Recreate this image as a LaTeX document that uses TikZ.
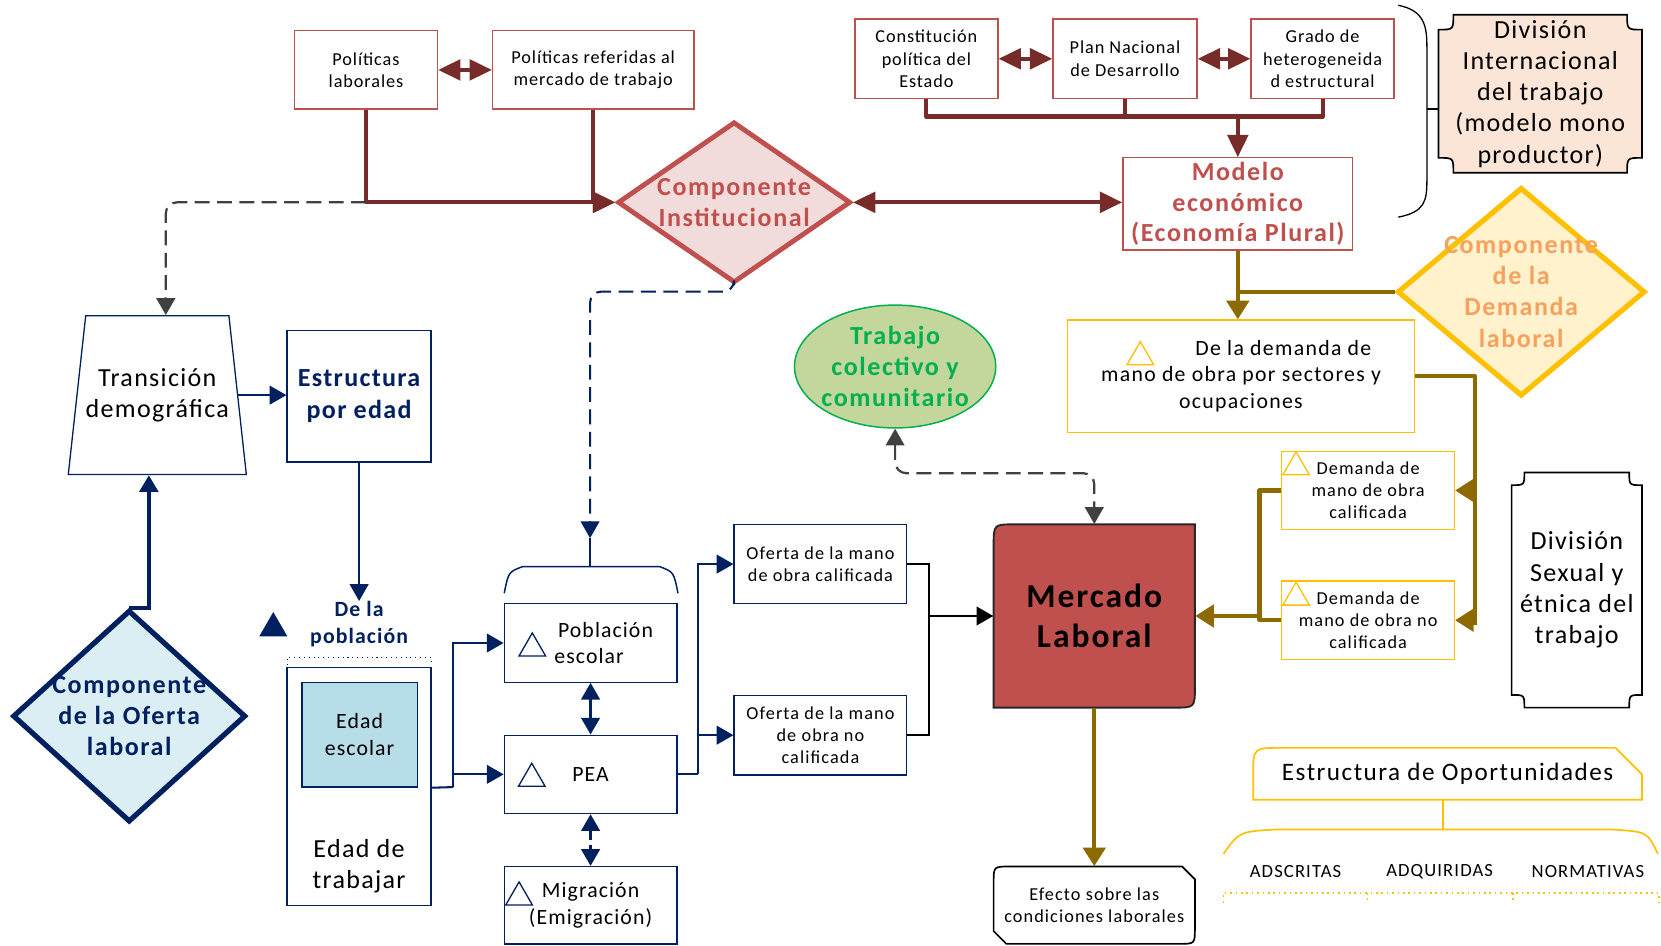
\documentclass[tikz,border=0pt]{standalone}
\usepackage{fontspec}
\setmainfont{Carlito}[LetterSpace=5]
\newfontfamily\trackfont[LetterSpace=6]{Carlito}
\usepackage{tikz}
\usetikzlibrary{arrows.meta,calc,shapes.geometric}
\definecolor{cNavy}{HTML}{002060}
\definecolor{cRed}{HTML}{C0504D}
\definecolor{cPink}{HTML}{F2DCDB}
\definecolor{cMaroon}{HTML}{772C2A}
\definecolor{cSky}{HTML}{DAEEF3}
\definecolor{cAqua}{HTML}{B7DEE8}
\definecolor{cGold}{HTML}{FFC000}
\definecolor{cCream}{HTML}{FFF2CC}
\definecolor{cApricot}{HTML}{F6A25E}
\definecolor{cOlive}{HTML}{8C6A00}
\definecolor{cGreen}{HTML}{00B050}
\definecolor{cLime}{HTML}{C3D69B}
\definecolor{cPeach}{HTML}{FBE5D6}
\definecolor{cDark}{HTML}{262626}
\definecolor{cGray}{HTML}{404040}
\tikzset{
  cbox/.style={draw=#1,fill=white,line width=0.7pt,align=center,inner sep=1pt,text=black},
  cbox/.default=cNavy,
  dbox/.style={diamond,draw=#1,line width=2.6pt,inner sep=0pt},
  dtxt/.style={font=\trackfont\fontsize{14}{16.8}\selectfont\bfseries,align=center,text=#1},
  tri/.style={regular polygon,regular polygon sides=3,draw=#1,line width=0.7pt,minimum size=5.8mm,inner sep=0pt},
  arr/.style={-{Triangle[length=9pt,width=10pt]},line width=1.1pt,color=#1},
  arr/.default=cNavy,
  darr/.style={{Triangle[length=9pt,width=10pt]}-{Triangle[length=9pt,width=10pt]},line width=1.4pt,color=#1},
  darr/.default=cNavy,
  mline/.style={line width=2.2pt,color=cMaroon,line join=round},
  marr/.style={mline,-{Triangle[length=12pt,width=11pt]}},
  mdarr/.style={mline,{Triangle[length=12pt,width=11pt]}-{Triangle[length=12pt,width=11pt]}},
  oline/.style={line width=2.2pt,color=cOlive,line join=round},
  oarr/.style={oline,-{Triangle[length=10pt,width=12pt]}},
}

\begin{document}
\begin{tikzpicture}[x=0.2mm,y=-0.2mm,
    fsm/.style={font=\fontsize{9.8}{12}\selectfont},
    fwd/.style={font=\trackfont\fontsize{9.8}{12}\selectfont},
    fmd/.style={font=\fontsize{11.7}{14.2}\selectfont},
    flg/.style={font=\fontsize{14}{16.8}\selectfont}]
  \useasboundingbox (0,0) rectangle (1568,893);
  % institutional side
  \node[cbox=cRed,fsm,minimum width=27mm,minimum height=14.8mm] (polLab) at (345.5,66) {Políticas\\laborales};
  \node[cbox=cRed,fsm,minimum width=38mm,minimum height=14.8mm] (polMer) at (560,66) {Políticas referidas al\\mercado de trabajo};
  \node[cbox=cRed,fsm,minimum width=27mm,minimum height=15mm] (const) at (874.5,55.5) {Constitución\\política del\\Estado};
  \node[cbox=cRed,fsm,minimum width=27.2mm,minimum height=15mm] (plan) at (1062,55.5) {Plan Nacional\\de Desarrollo};
  \node[cbox=cRed,fsm,minimum width=27mm,minimum height=15mm] (grado) at (1248.5,55.5) {Grado de\\heterogeneida\\d estructural};
  \node[cbox=cRed,text=cRed,font=\trackfont\fontsize{14}{16.6}\selectfont\bfseries,minimum width=43.4mm,minimum height=17.4mm,inner sep=0pt] (modelo) at (1168.5,192.5) {Modelo\\económico\\(Economía Plural)};
  \node[dbox=cRed,fill=cPink,minimum width=44mm,minimum height=30.4mm] (inst) at (693,191) {};
  \node[dtxt=cRed] (instT) at (inst) {Componente\\Institucional};
  \draw[mdarr] (polLab.east) -- (polMer.west);
  \draw[marr] (polLab.south) |- (inst.west);
  \draw[marr] (polMer.south) |- (inst.west);
  \draw[mdarr] (inst.east) -- (inst.east -| modelo.west);
  \draw[mdarr] (const.east) -- (plan.west);
  \draw[mdarr] (plan.east) -- (grado.west);
  \coordinate (jnTop) at (1168.5,110);
  \draw[mline] (const.south) |- (jnTop);
  \draw[mline] (grado.south) |- (jnTop);
  \draw[mline] (plan.south) -- (plan.south |- jnTop);
  \draw[marr] (jnTop) -- (modelo.north);
  % international division of labour
  \draw[line width=0.7pt] (1320,5) .. controls (1345,10) and (1347,25) .. (1347,45) -- (1347,170) .. controls (1347,190) and (1345,200) .. (1320,205);
  \draw[line width=0.9pt,fill=cPeach] (1372,14) -- (1536,14) .. controls (1536,28) .. (1550,28) -- (1550,149) .. controls (1536,149) .. (1536,163) -- (1372,163) .. controls (1372,149) .. (1358,149) -- (1358,28) .. controls (1372,28) .. (1372,14) -- cycle;
  \node[flg,align=center,inner sep=0pt,minimum width=38.4mm,minimum height=29.8mm] (divInt) at (1454,88.5) {División\\Internacional\\del trabajo\\(modelo mono\\productor)};
  \coordinate (brMid) at (1347,103);
  \draw[line width=0.7pt] (brMid) -- (brMid -| divInt.west);

  % supply side
  \node[trapezium,trapezium left angle=72,trapezium right angle=72,trapezium stretches=true,draw=cNavy,line width=0.7pt,inner sep=0pt,
        minimum width=32.6mm,minimum height=30mm,flg,align=center] (trans) at (148.5,373) {Transición\\demográfica};
  \node[cbox,text=cNavy,font=\fontsize{14}{16.8}\selectfont\bfseries,minimum width=27.2mm,minimum height=24.8mm] (estr) at (339,374) {Estructura\\por edad};
  \node[font=\fontsize{11.7}{14.2}\selectfont\bfseries,text=cNavy,align=center,inner sep=0pt] (dlp) at (339,589) {De la\\población};
  \node[regular polygon,regular polygon sides=3,fill=cNavy,minimum size=6.1mm,inner sep=0pt] (tPob) at (258,593) {};
  \draw[cNavy,dotted,line width=0.6pt] (271,628) -- (271,621) -- (407,621) -- (407,628);
  \node[cbox,minimum width=27.2mm,minimum height=45mm] (trab) at (339,742.5) {};
  \node[cbox,fill=cAqua,fmd,minimum width=21.8mm,minimum height=19.8mm] (esc) at (339.5,693.5) {Edad\\escolar};
  \node[flg,align=center] (trabT) at (339,818) {Edad de\\trabajar};
  \node[dbox=cNavy,fill=cSky,line width=2.8pt,minimum width=44mm,minimum height=40mm] (ofe) at (122,676) {};
  \node[dtxt=cNavy] (ofeT) at (ofe) {Componente\\de la Oferta\\laboral};
  \draw[arr] (trans.east) -- (trans.east -| estr.west);
  \draw[arr] (estr.south) -- (dlp.north);
  \draw[arr,line width=2.2pt] (ofe.north) -| ($(trans.south)+(-8,0)$);
  \draw[cGray,line width=1.2pt,dash pattern=on 8pt off 4pt,rounded corners=6pt,-{Triangle[length=9pt,width=10pt]}] (polLab.south |- inst.west) -| ($(trans.north)+(8,0)$);

  % school, PEA, migration
  \coordinate (pobIn) at (557,508);
  \coordinate (pobTop) at (557,535);
  \draw[arr,dash pattern=on 8pt off 4pt,rounded corners=6pt] (inst.south) -- ++(0,6) -| (pobIn);
  \draw[cNavy,line width=0.8pt] (pobIn) -- (pobTop);
  \draw[cNavy,line width=0.8pt] (476,560) .. controls (480,540) .. (493,535) -- (623,535) .. controls (636,540) .. (640,560);
  \node[cbox,minimum width=32.6mm,minimum height=14.8mm] (pobEsc) at (557.5,607) {};
  \node[fmd,align=left,anchor=west,inner sep=0pt] (pobT) at (523,607) {\,Población\\escolar};
  \node[cbox,fmd,minimum width=32.6mm,minimum height=14.8mm] (pea) at (557.5,731) {PEA};
  \node[cbox,fmd,minimum width=32.6mm,minimum height=14.6mm] (migr) at (557.5,854.5) {Migración\\(Emigración)};
  \node[tri=cNavy] (tEsc) at (502.5,612) {};
  \node[tri=cNavy] (tPea) at (502,735) {};
  \node[tri=cNavy] (tMig) at (490,847) {};
  \coordinate (wkOut) at (428,743);
  \draw[cNavy,line width=1.1pt] (trab.east |- esc.south) -- (wkOut);
  \draw[arr] (wkOut) |- (pobEsc.west);
  \draw[arr] (wkOut) |- (pea.west);
  \draw[darr] (pobEsc.south) -- (pea.north);
  \draw[darr,dash pattern=on 5pt off 3pt] (pea.south) -- (migr.north);

  % labour supply and market
  \node[cbox,fwd,minimum width=32.6mm,minimum height=15mm] (ofCal) at (774.5,532.5) {Oferta de la mano\\de obra calificada};
  \node[cbox,fwd,minimum width=32.6mm,minimum height=15mm] (ofNo) at (774.5,694) {Oferta de la mano\\de obra no\\calificada};
  \coordinate (peaOut) at (659,731);
  \draw[cNavy,line width=1.1pt] (pea.east) -- (peaOut);
  \draw[arr] (peaOut) |- (ofCal.west);
  \draw[arr] (peaOut) |- (ofNo.west);
  \draw[fill=cRed,draw=cDark,line width=1pt] (938,668) -- (938,515) .. controls (938,495) .. (958,495) -- (1128,495) -- (1128,648) .. controls (1128,668) .. (1108,668) -- cycle;
  \node[font=\trackfont\fontsize{18}{21.6}\selectfont\bfseries,align=center,minimum width=38mm,minimum height=34.6mm] (merc) at (1033,581.5) {Mercado\\Laboral};
  \coordinate (ofJoin) at (877,581.5);
  \draw[line width=1.2pt] (ofCal.east) -| (ofJoin);
  \draw[line width=1.2pt] (ofNo.east) -| (ofJoin);
  \draw[arr=black,line width=1.2pt] (ofJoin) -- (merc.west);
  \node[ellipse,draw=cGreen,fill=cLime,line width=0.8pt,minimum width=38mm,minimum height=23.2mm] (trabE) at (845,346) {};
  \node[text=cGreen,font=\trackfont\fontsize{14}{16.6}\selectfont\bfseries,align=center] (trabET) at (trabE) {Trabajo\\colectivo y\\comunitario};
  \draw[darr=cGray,line width=1.2pt,dash pattern=on 8pt off 4pt,rounded corners=6pt] (trabE.south) -- ++(0,42) -| (merc.north);
  \draw[line width=0.9pt] (938,833) .. controls (938,818) .. (953,818) -- (1116,818) -- (1128,830) -- (1128,876) .. controls (1128,891) .. (1113,891) -- (950,891) -- (938,879) -- cycle;
  \node[fwd,align=center,minimum width=38mm,minimum height=14.6mm] (efecto) at (1033,854.5) {Efecto sobre las\\condiciones laborales};
  \draw[oarr] (merc.south) -- (efecto.north);

  % demand side
  \node[dbox=cGold,fill=cCream,line width=2.8pt,minimum width=46.8mm,minimum height=39.4mm] (dem) at (1436,275.5) {};
  \node[dtxt=cApricot] (demT) at (dem) {Componente\\de la\\Demanda\\laboral};
  \node[cbox=cGold,font=\trackfont\fontsize{11.7}{14.2}\selectfont,minimum width=65.4mm,minimum height=21.2mm] (demLa) at (1171.5,355) {\hspace*{16mm}De la demanda de\\mano de obra por sectores y\\ocupaciones};
  \node[cbox=cGold,font=\trackfont\fontsize{9.8}{11.7}\selectfont,minimum width=32.6mm,minimum height=14.8mm] (demCal) at (1291.5,463) {Demanda de\\mano de obra\\calificada};
  \node[cbox=cGold,font=\trackfont\fontsize{9.8}{11.7}\selectfont,minimum width=32.6mm,minimum height=14.8mm] (demNo) at (1291.5,585.5) {Demanda de\\mano de obra no\\calificada};
  \node[tri=cGold] (tDem) at (1076.5,337) {};
  \node[tri=cGold] (tCal) at (1223.5,441) {};
  \node[tri=cGold] (tNo) at (1223.5,564) {};
  \draw[oarr] (modelo.south) -- (modelo.south |- demLa.north);
  \draw[oline] (dem.west) -- (dem.west -| modelo.south);
  \coordinate (demR) at (1392,590);
  \draw[oline] (demLa.east) -| (demR);
  \draw[oarr] (demCal.east -| demR) -- (demCal.east);
  \draw[oarr] (demNo.east -| demR) -- (demNo.east);
  \coordinate (demL) at (1189,581.5);
  \draw[oline] (demCal.west) -| (demL);
  \draw[oline] (demNo.west) -| (demL);
  \draw[oarr] (demL) -- (merc.east);

  % sexual and ethnic division
  \draw[line width=0.9pt] (1439,446) -- (1538,446) .. controls (1538,458) .. (1550,458) -- (1550,656) .. controls (1538,656) .. (1538,668) -- (1439,668) .. controls (1439,656) .. (1427,656) -- (1427,458) .. controls (1439,458) .. (1439,446) -- cycle;
  \node[flg,align=center] (divSex) at (1488.5,557) {División\\Sexual y\\étnica del\\trabajo};

  % opportunity structure
  \draw[cGold,line width=0.9pt] (1183,755) -- (1183,732) .. controls (1183,706) .. (1209,706) -- (1525,706) -- (1550,731) -- (1550,755) -- cycle;
  \node[font=\trackfont\fontsize{13.5}{16.8}\selectfont,minimum width=73.4mm,minimum height=9.8mm] (estOp) at (1366.5,730.5) {Estructura de Oportunidades};
  \coordinate (opTop) at (1362,783);
  \draw[cGold,line width=0.9pt] (opTop |- estOp.south) -- (opTop);
  \draw[cGold,line width=0.9pt] (1155,806) .. controls (1170,785) .. (1205,783) -- (1520,783) .. controls (1555,785) .. (1565,806);
  \foreach \x/\t/\n in {1223/ADSCRITAS/opA,1359/ADQUIRIDAS/opB,1499/NORMATIVAS/opC}{
    \node[font=\trackfont\fontsize{10}{12}\selectfont] (\n) at (\x,823) {\t};}
  \draw[cGold,dotted,line width=0.9pt] (1155,852) -- (1155,843) -- (1566,843) -- (1566,852);
  \foreach \x in {1291,1428}{
    \draw[cGold,dotted,line width=0.9pt] (\x,843) -- (\x,852);}
\end{tikzpicture}
\end{document}
